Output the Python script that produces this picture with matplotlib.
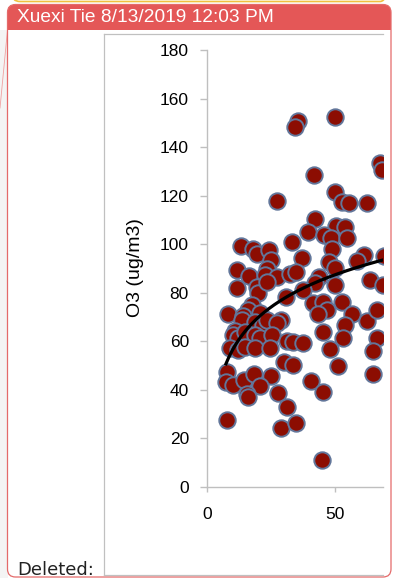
import numpy as np
import matplotlib
matplotlib.use("Agg")
import matplotlib.pyplot as plt
from matplotlib.patches import FancyBboxPatch, Rectangle

plt.rcParams["font.family"] = ["Liberation Sans", "DejaVu Sans"]

# 散布図のデータ
x_vals = [35.5, 34.4, 50.0, 41.8, 27.3, 50.0, 52.7, 55.5, 62.5, 67.6,
          68.5, 42.2, 50.4, 53.9, 39.5, 45.7, 48.4, 54.7, 33.2, 48.8,
          13.3, 18.0, 19.5, 24.2, 25.0, 37.1, 61.3, 58.6, 69.0, 47.7,
          50.0, 11.7, 16.4, 23.4, 22.7, 27.3, 32.4, 34.8, 43.8, 42.2,
          50.0, 63.7, 68.9, 11.7, 19.5, 19.9, 23.4, 37.5, 30.9, 41.4,
          45.3, 46.9, 52.7, 17.6, 16.0, 8.2, 14.1, 13.7, 20.7, 18.8,
          21.9, 23.4, 28.9, 27.3, 43.4, 56.6, 62.5, 66.4, 53.9, 45.3,
          10.9, 10.2, 12.1, 14.8, 18.8, 20.7, 25.4, 9.0, 12.1, 14.8,
          18.8, 24.6, 31.3, 33.6, 37.5, 53.1, 66.4, 48.0, 64.8, 30.1,
          33.6, 51.2, 7.8, 7.4, 10.2, 14.5, 18.4, 25.0, 20.7, 15.6,
          16.0, 27.7, 40.6, 45.3, 64.8, 31.3, 7.8, 28.9, 34.8, 44.9]
y_vals = [150.7, 148.3, 152.4, 128.5, 117.8, 121.5, 117.4, 117.0, 117.0, 133.4,
          130.6, 110.4, 107.5, 107.1, 105.0, 103.8, 102.6, 102.6, 100.9, 98.0,
          99.3, 98.0, 96.0, 97.6, 93.5, 94.3, 95.6, 93.1, 95.1, 92.7,
          90.2, 89.4, 86.9, 89.8, 87.3, 86.5, 87.7, 88.6, 86.5, 84.0,
          83.2, 85.3, 83.2, 82.0, 82.4, 79.9, 84.4, 81.1, 78.3, 75.8,
          76.2, 72.9, 76.2, 75.0, 72.9, 71.3, 70.4, 68.8, 71.7, 68.0,
          66.7, 68.8, 68.8, 67.5, 71.3, 71.3, 68.4, 72.9, 66.7, 63.8,
          64.3, 62.6, 61.4, 63.8, 62.6, 61.4, 62.6, 57.2, 56.4, 57.7,
          57.2, 57.2, 60.1, 59.7, 59.3, 61.4, 61.4, 56.8, 56.0, 51.5,
          50.2, 49.8, 47.4, 43.2, 42.0, 44.1, 46.5, 45.7, 41.6, 38.3,
          37.1, 38.7, 43.7, 39.1, 46.5, 32.9, 27.6, 24.3, 26.4, 11.1]

# 対数近似曲線 y = a + b*ln(x)
trend_a = 12.3
trend_b = 19.2
trend_x_start = 7.4
trend_x_end = 70.0

y_ticks = [0, 20, 40, 60, 80, 100, 120, 140, 160, 180]
x_ticks = [0, 50]

W, H = 398, 578
fig = plt.figure(figsize=(W / 100, H / 100), dpi=100)
fig.patch.set_facecolor("white")

# 背景（コメント枠など）をピクセル座標で描く
bg = fig.add_axes([0, 0, 1, 1], zorder=-1)
bg.set_xlim(0, W)
bg.set_ylim(H, 0)
bg.axis("off")

bg.add_patch(Rectangle((0, 30), 7.5, H - 30, facecolor="#f4f4f4", edgecolor="none"))
bg.plot([7.5, 0], [30, 108], color="#f0a0a0", lw=0.6)
bg.add_patch(FancyBboxPatch((12, -30), 376, 31.5, boxstyle="round,pad=0,rounding_size=8",
                            facecolor="none", edgecolor="#f0c040", lw=1.2))

bg.add_patch(FancyBboxPatch((7.5, 4.5), 383.5, 572.5, boxstyle="round,pad=0,rounding_size=8",
                            facecolor="white", edgecolor="none", zorder=1))
bg.add_patch(FancyBboxPatch((7.5, 4.5), 383.5, 40, boxstyle="round,pad=0,rounding_size=8",
                            facecolor="#e45757", edgecolor="none", zorder=2))
bg.add_patch(Rectangle((7.5, 30), 383.5, 20, facecolor="white", edgecolor="none", zorder=3))
bg.add_patch(FancyBboxPatch((7.5, 4.5), 383.5, 572.5, boxstyle="round,pad=0,rounding_size=8",
                            facecolor="none", edgecolor="#e46a6a", lw=0.9, zorder=4))

# グラフの外枠（右側は切れている）
frame_kw = dict(color="#c0c0c0", lw=0.9, zorder=5)
bg.plot([104, 383], [34, 34], **frame_kw)
bg.plot([104, 104], [34, 575], **frame_kw)
bg.plot([104, 383], [575, 575], **frame_kw)

bg.text(17, 17.5, "Xuexi Tie 8/13/2019 12:03 PM", color="white", fontsize=13.8,
        ha="left", va="center", zorder=6)
bg.text(17, 575, "Deleted:", color="#222222", fontsize=13, family=["DejaVu Sans"],
        ha="left", va="baseline", zorder=6)

# 散布図本体
ax = fig.add_axes([207 / W, 91 / H, 176 / W, 437 / H])
ax.set_facecolor("none")
ax.scatter(x_vals, y_vals, s=140, facecolor="#8c0d02", edgecolor="#62769a",
           linewidth=1.4, zorder=3)

tx = np.linspace(trend_x_start, trend_x_end, 200)
ax.plot(tx, trend_a + trend_b * np.log(tx), color="black", lw=2.3, zorder=4)

ax.set_xlim(0, 176 / 2.56)
ax.set_ylim(0, 180)
ax.set_yticks(y_ticks)
ax.set_xticks(x_ticks)
for s in ["top", "right"]:
    ax.spines[s].set_visible(False)
for s in ["left", "bottom"]:
    ax.spines[s].set_color("#bfbfbf")
    ax.spines[s].set_linewidth(1.0)
ax.tick_params(axis="y", length=5, width=1.0, color="#bfbfbf", pad=8, labelsize=12.5)
ax.tick_params(axis="x", length=3.5, width=1.0, color="#bfbfbf", pad=11, labelsize=12.5)

fig.text(136 / W, 1 - 268 / H, "O3 (ug/m3)", rotation=90, ha="center", va="center",
         fontsize=14)

fig.savefig("out.png", dpi=100)
